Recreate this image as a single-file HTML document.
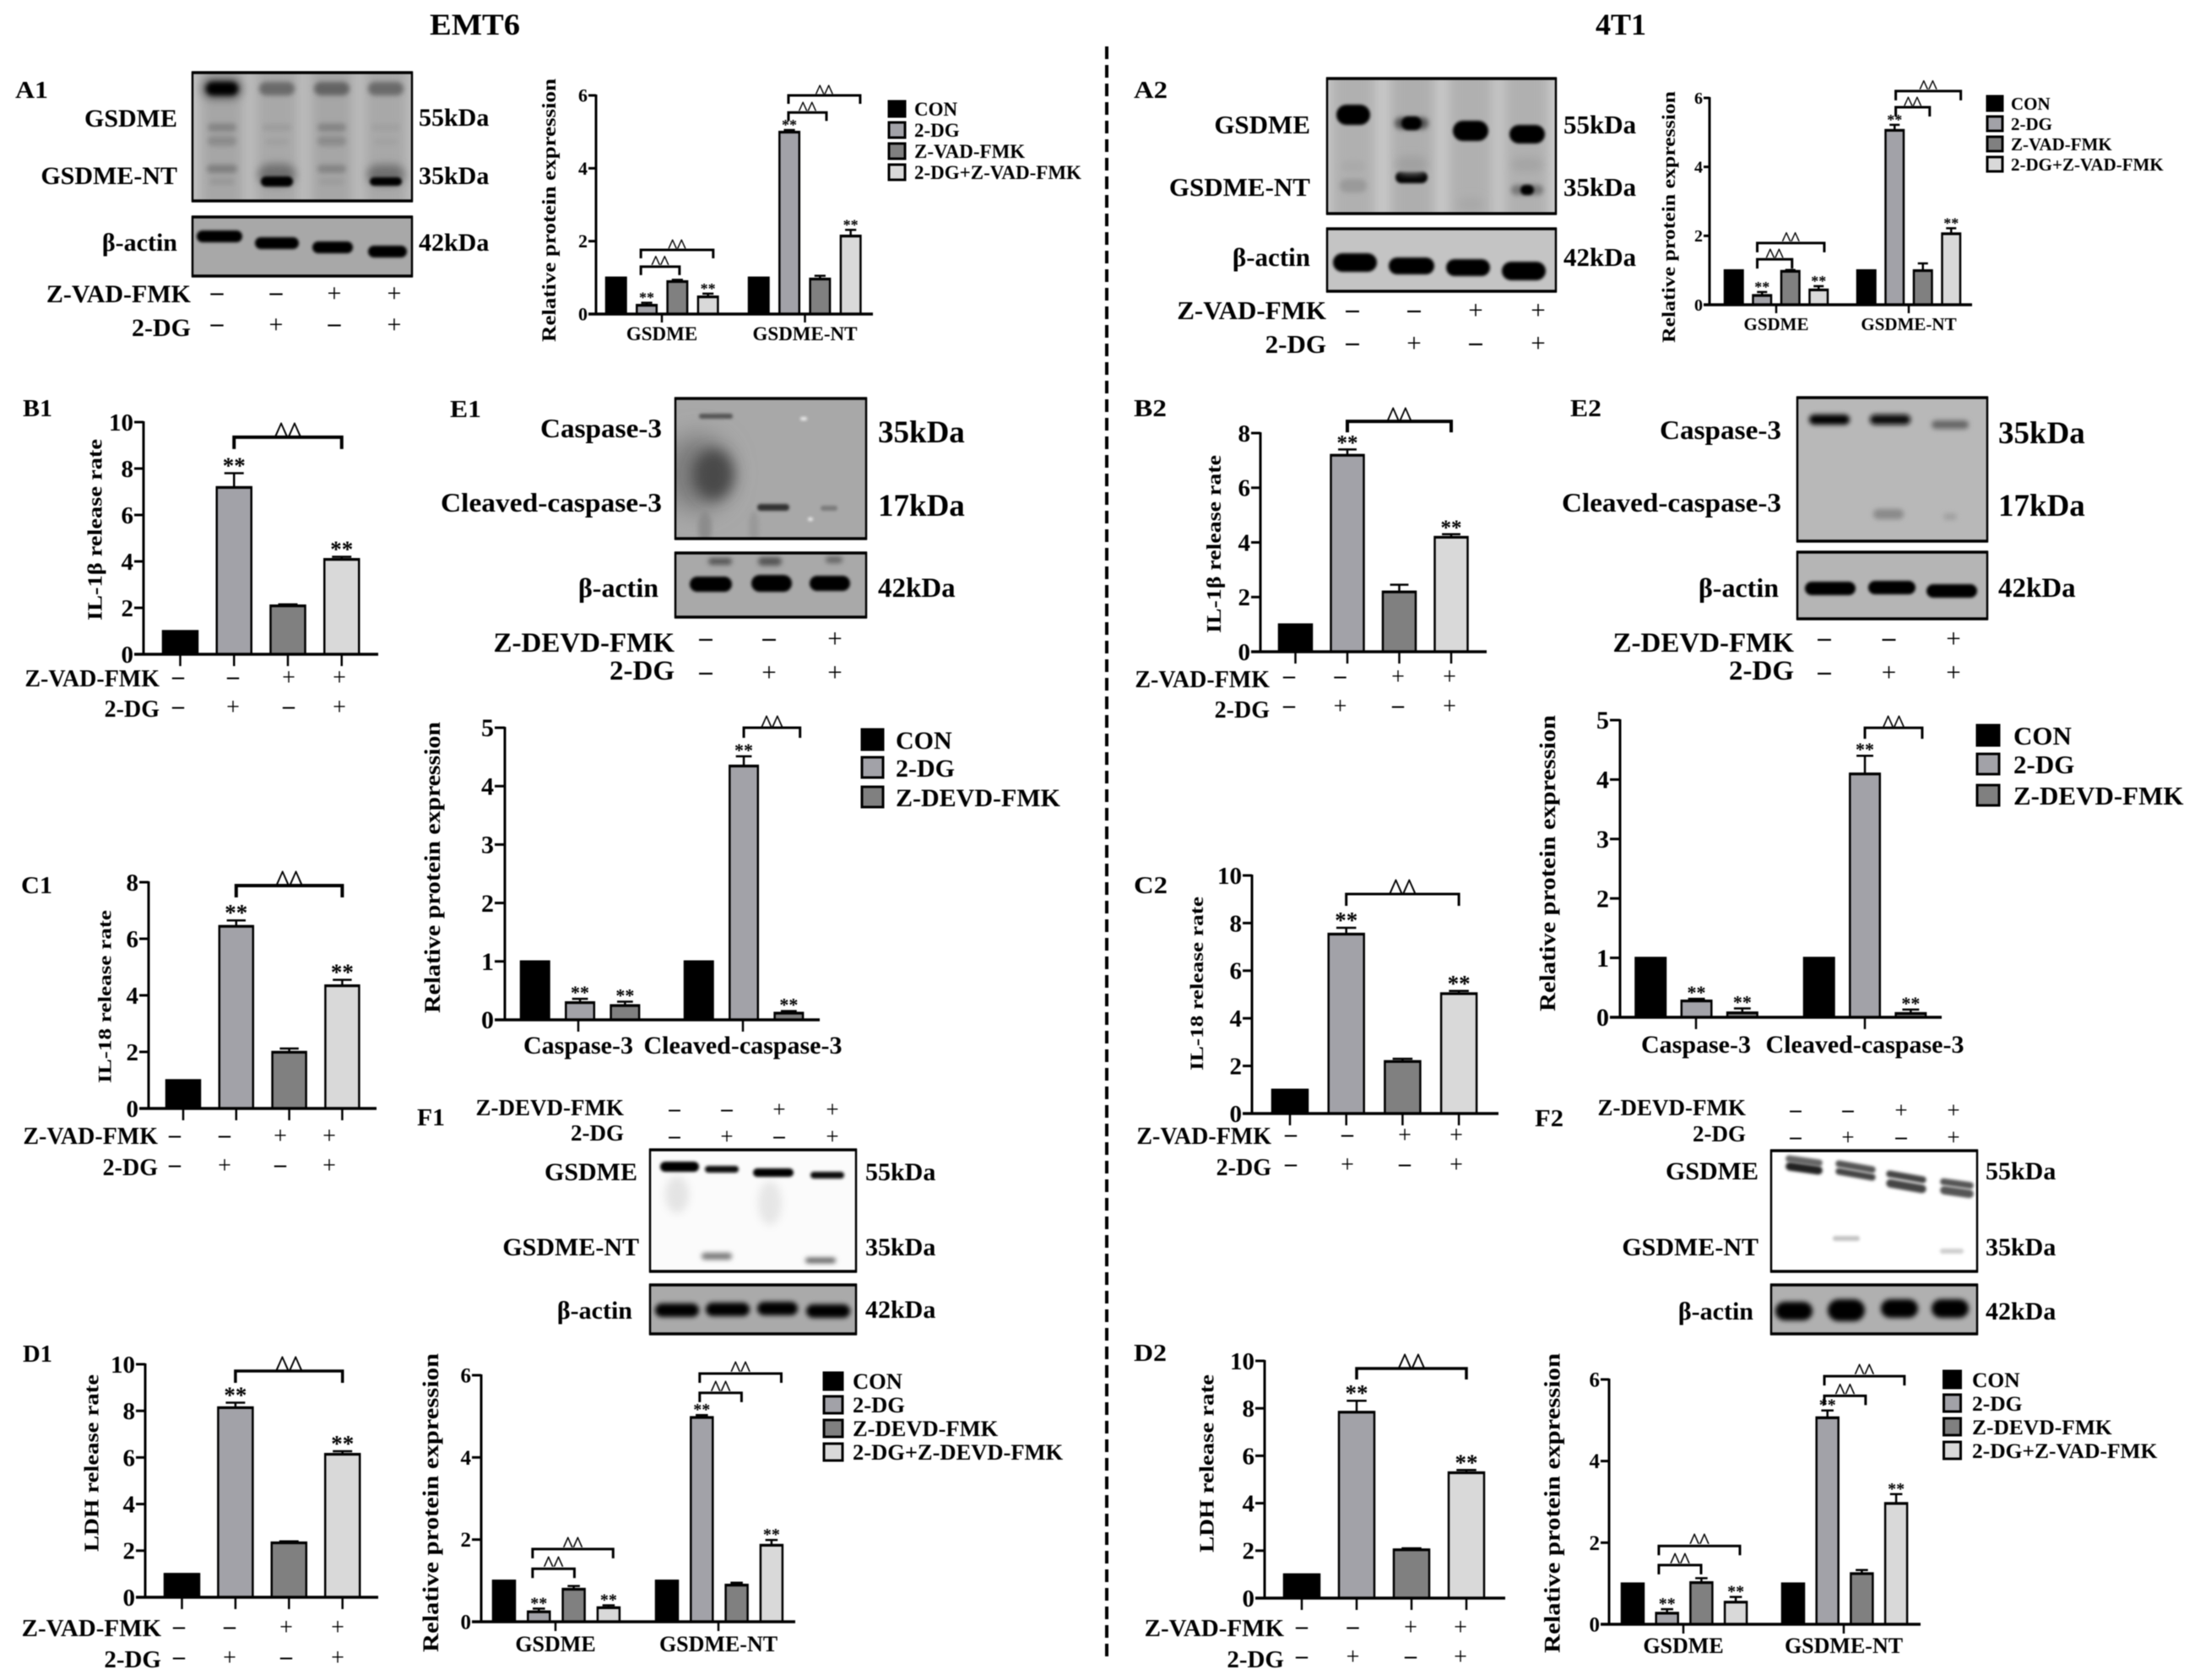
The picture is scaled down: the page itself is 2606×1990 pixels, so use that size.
<!DOCTYPE html>
<html lang="en">
<head>
<meta charset="utf-8">
<title>EMT6 and 4T1 pyroptosis figure</title>
<style>
html,body{margin:0;padding:0;background:#fff;}
svg{display:block;filter:blur(0.5px);}
text{font-family:"Liberation Serif","Noto Serif CJK SC",serif;font-weight:700;fill:#000;}
.r{text-anchor:end;}
.s30{font-size:30px;}
.s31{font-size:31px;}
.s32{font-size:32px;}
</style>
</head>
<body>
<svg id="figure" xmlns="http://www.w3.org/2000/svg" width="2606" height="1990" viewBox="0 0 2606 1990">
<defs>
<filter id="b1" x="-100%" y="-300%" width="300%" height="700%"><feGaussianBlur stdDeviation="1.5"/></filter>
<filter id="b3" x="-100%" y="-300%" width="300%" height="700%"><feGaussianBlur stdDeviation="3"/></filter>
<filter id="b5" x="-100%" y="-300%" width="300%" height="700%"><feGaussianBlur stdDeviation="5"/></filter>
<filter id="b8" x="-100%" y="-100%" width="300%" height="300%"><feGaussianBlur stdDeviation="8"/></filter>
<filter id="b14" x="-100%" y="-100%" width="300%" height="300%"><feGaussianBlur stdDeviation="14"/></filter>
</defs>
<rect width="2606" height="1990" fill="#fff"/>

<text x="509" y="41" font-size="36" textLength="107" lengthAdjust="spacingAndGlyphs">EMT6</text>
<text x="1890" y="41" font-size="36" textLength="60" lengthAdjust="spacingAndGlyphs">4T1</text>
<line x1="1311" y1="55" x2="1311" y2="1963" stroke="#000" stroke-width="4" stroke-dasharray="15 7"/>

<g font-size="28">
<text x="18" y="116" textLength="39" lengthAdjust="spacingAndGlyphs">A1</text>
<text x="1343" y="116" textLength="40" lengthAdjust="spacingAndGlyphs">A2</text>
<text x="27" y="493" textLength="35" lengthAdjust="spacingAndGlyphs">B1</text>
<text x="1343" y="493" textLength="39" lengthAdjust="spacingAndGlyphs">B2</text>
<text x="25" y="1058" textLength="37" lengthAdjust="spacingAndGlyphs">C1</text>
<text x="1343" y="1058" textLength="40" lengthAdjust="spacingAndGlyphs">C2</text>
<text x="27" y="1613" textLength="35" lengthAdjust="spacingAndGlyphs">D1</text>
<text x="1343" y="1612" textLength="39" lengthAdjust="spacingAndGlyphs">D2</text>
<text x="533" y="494" textLength="37" lengthAdjust="spacingAndGlyphs">E1</text>
<text x="1860" y="493" textLength="37" lengthAdjust="spacingAndGlyphs">E2</text>
<text x="494" y="1333" textLength="33" lengthAdjust="spacingAndGlyphs">F1</text>
<text x="1818" y="1334" textLength="34" lengthAdjust="spacingAndGlyphs">F2</text>
</g>

<g id="blots"></g>

<g class="s30">
<text class="r" x="210" y="150">GSDME</text>
<text class="r" x="210" y="218">GSDME-NT</text>
<text class="r" x="210" y="297">β-actin</text>
<text x="496" y="149">55kDa</text>
<text x="496" y="218">35kDa</text>
<text x="496" y="297">42kDa</text>
<text class="r" x="226" y="358">Z-VAD-FMK</text>
<text class="r" x="226" y="398">2-DG</text>
</g>
<g class="s31">
<text class="r" x="1552" y="158">GSDME</text>
<text class="r" x="1552" y="232">GSDME-NT</text>
<text class="r" x="1552" y="315">β-actin</text>
<text x="1852" y="158">55kDa</text>
<text x="1852" y="232">35kDa</text>
<text x="1852" y="315">42kDa</text>
<text class="r" x="1571" y="378">Z-VAD-FMK</text>
<text class="r" x="1571" y="418">2-DG</text>
</g>
<g class="s32">
<text class="r" x="784" y="518" textLength="144" lengthAdjust="spacingAndGlyphs">Caspase-3</text>
<text class="r" x="784" y="606" textLength="262" lengthAdjust="spacingAndGlyphs">Cleaved-caspase-3</text>
<text class="r" x="780" y="707">β-actin</text>
<text x="1040" y="524" font-size="37">35kDa</text>
<text x="1040" y="611" font-size="37">17kDa</text>
<text x="1040" y="707" font-size="33">42kDa</text>
<text class="r" x="799" y="772" font-size="33">Z-DEVD-FMK</text>
<text class="r" x="799" y="805" font-size="33">2-DG</text>
</g>
<g class="s32">
<text class="r" x="2110" y="520" textLength="144" lengthAdjust="spacingAndGlyphs">Caspase-3</text>
<text class="r" x="2110" y="606" textLength="260" lengthAdjust="spacingAndGlyphs">Cleaved-caspase-3</text>
<text class="r" x="2107" y="707">β-actin</text>
<text x="2367" y="525" font-size="37">35kDa</text>
<text x="2367" y="611" font-size="37">17kDa</text>
<text x="2367" y="707" font-size="33">42kDa</text>
<text class="r" x="2125" y="772" font-size="33">Z-DEVD-FMK</text>
<text class="r" x="2125" y="805" font-size="33">2-DG</text>
</g>
<g class="s30">
<text class="r" x="739" y="1321" font-size="27">Z-DEVD-FMK</text>
<text class="r" x="739" y="1351" font-size="27">2-DG</text>
<text class="r" x="755" y="1398">GSDME</text>
<text class="r" x="757" y="1487">GSDME-NT</text>
<text class="r" x="749" y="1562">β-actin</text>
<text x="1025" y="1398">55kDa</text>
<text x="1025" y="1487">35kDa</text>
<text x="1025" y="1561">42kDa</text>
</g>
<g class="s30">
<text class="r" x="2068" y="1321" font-size="27">Z-DEVD-FMK</text>
<text class="r" x="2068" y="1352" font-size="27">2-DG</text>
<text class="r" x="2083" y="1397">GSDME</text>
<text class="r" x="2083" y="1487">GSDME-NT</text>
<text class="r" x="2077" y="1563">β-actin</text>
<text x="2352" y="1397">55kDa</text>
<text x="2352" y="1487">35kDa</text>
<text x="2352" y="1563">42kDa</text>
</g>

<g id="blot-signs"></g>

<g id="chart-a1"></g>
<g id="chart-a2"></g>
<g id="chart-b1"></g>
<g id="chart-b2"></g>
<g id="chart-c1"></g>
<g id="chart-c2"></g>
<g id="chart-d1"></g>
<g id="chart-d2"></g>
<g id="chart-e1"></g>
<g id="chart-e2"></g>
<g id="chart-f1"></g>
<g id="chart-f2"></g>
</svg>

<script>
/* ---------- chart data ---------- */
const gsdmeGroups = ['GSDME', 'GSDME-NT'];
const caspaseGroups = ['Caspase-3', 'Cleaved-caspase-3'];
const noGroups = [''];
const vadLegend = ['CON', '2-DG', 'Z-VAD-FMK', '2-DG+Z-VAD-FMK'];
const devdLegend3 = ['CON', '2-DG', 'Z-DEVD-FMK'];
const f1Legend = ['CON', '2-DG', 'Z-DEVD-FMK', '2-DG+Z-DEVD-FMK'];
const f2Legend = ['CON', '2-DG', 'Z-DEVD-FMK', '2-DG+Z-VAD-FMK'];
const rowNames = ['Z-VAD-FMK', '2-DG'];
const rowSigns = [['–', '–', '+', '+'], ['–', '+', '–', '+']];

const ticks6 = [0, 2, 4, 6];
const ticks8 = [0, 2, 4, 6, 8];
const ticks10 = [0, 2, 4, 6, 8, 10];
const ticks5 = [0, 1, 2, 3, 4, 5];

const a1Values = [[1, 0.25, 0.9, 0.48], [1, 5, 0.97, 2.15]];
const a1Errors = [[0, 0.06, 0.04, 0.08], [0, 0.05, 0.08, 0.16]];
const a1Stars = [[1, 3], [1, 3]];
const a1Brackets = [[0, 0.81, 2.07, 1.3], [0, 0.81, 3.17, 1.76], [1, 0.97, 2.21, 5.53], [1, 0.97, 3.31, 6.0]];

const a2Values = [[1, 0.28, 0.98, 0.44], [1, 5.07, 1, 2.07]];
const a2Errors = [[0, 0.09, 0.03, 0.1], [0, 0.15, 0.2, 0.15]];
const a2Stars = [[1, 3], [1, 3]];
const a2Brackets = [[0, 0.83, 2.06, 1.32], [0, 0.83, 3.2, 1.79], [1, 1.04, 2.24, 5.73], [1, 1.04, 3.34, 6.2]];

const b1Values = [[1, 7.2, 2.1, 4.1]];
const b1Errors = [[0, 0.6, 0.05, 0.1]];
const b1Stars = [[1, 3]];
const b1Brackets = [[0, 1, 3, 9.35]];

const b2Values = [[1, 7.2, 2.2, 4.2]];
const b2Errors = [[0, 0.2, 0.25, 0.1]];
const b2Stars = [[1, 3]];
const b2Brackets = [[0, 1, 3, 8.43]];

const c1Values = [[1, 6.45, 2, 4.35]];
const c1Errors = [[0, 0.2, 0.12, 0.2]];
const c1Stars = [[1, 3]];
const c1Brackets = [[0, 1, 3, 7.88]];

const c2Values = [[1, 7.55, 2.2, 5.05]];
const c2Errors = [[0, 0.25, 0.1, 0.1]];
const c2Stars = [[1, 3]];
const c2Brackets = [[0, 1, 3, 9.22]];

const d1Values = [[1, 8.15, 2.35, 6.15]];
const d1Errors = [[0, 0.2, 0.05, 0.12]];
const d1Stars = [[1, 3]];
const d1Brackets = [[0, 1, 3, 9.71]];

const d2Values = [[1, 7.85, 2.05, 5.3]];
const d2Errors = [[0, 0.47, 0.05, 0.1]];
const d2Stars = [[1, 3]];
const d2Brackets = [[0, 1, 3, 9.68]];

const e1Values = [[1, 0.3, 0.25], [1, 4.35, 0.12]];
const e1Errors = [[0, 0.06, 0.06], [0, 0.16, 0.03]];
const e1Stars = [[1, 2], [1, 2]];
const e1Brackets = [[1, 1, 2.25, 5.0]];

const e2Values = [[1, 0.28, 0.08], [1, 4.1, 0.07]];
const e2Errors = [[0, 0.03, 0.07], [0, 0.3, 0.06]];
const e2Stars = [[1, 2], [1, 2]];
const e2Brackets = [[1, 1, 2.25, 4.87]];

const f1Values = [[1, 0.25, 0.8, 0.35], [1, 4.98, 0.9, 1.87]];
const f1Errors = [[0, 0.07, 0.07, 0.05], [0, 0.05, 0.05, 0.12]];
const f1Stars = [[1, 3], [1, 3]];
const f1Brackets = [[0, 0.82, 2.02, 1.29], [0, 0.82, 3.13, 1.77], [1, 0.94, 2.14, 5.57], [1, 0.94, 3.28, 6.04]];

const f2Values = [[1, 0.28, 1.03, 0.55], [1, 5.07, 1.25, 2.97]];
const f2Errors = [[0, 0.09, 0.1, 0.12], [0, 0.17, 0.08, 0.22]];
const f2Stars = [[1, 3], [1, 3]];
const f2Brackets = [[0, 0.76, 1.99, 1.45], [0, 0.76, 3.12, 1.92], [1, 0.91, 2.11, 5.6], [1, 0.91, 3.24, 6.08]];

const barFills = ['#000000', '#a2a2a8', '#808080', '#d9d9d9'];

/* ---------- chart layout (pixels) ---------- */
const charts = [
 {id:'chart-a1', values:a1Values, errors:a1Errors, stars:a1Stars, brackets:a1Brackets, ticks:ticks6, groups:gsdmeGroups, legend:vadLegend,
  axisX:706,yTop:113,yZero:372,xEnd:1034,tickLen:9,tickDown:8,bar0:718,step:36.3,barW:23.5,groupOffset:169,
  title:'Relative protein expression',titleX:658,titleTop:93,titleBot:405,titleFont:23,tickFont:22,starFont:18,bracketW:3,tip:10,
  groupX:[784,953.5],labelY:403,labelFont:23,swX:1053,swW:19,swH:18,legX:1083,legFont:23,legY:[137,162,187,212]},
 {id:'chart-a2', values:a2Values, errors:a2Errors, stars:a2Stars, brackets:a2Brackets, ticks:ticks6, groups:gsdmeGroups, legend:vadLegend,
  axisX:2025,yTop:116,yZero:361,xEnd:2336,tickLen:7,tickDown:8,bar0:2043,step:33.5,barW:21.5,groupOffset:157,
  title:'Relative protein expression',titleX:1984,titleTop:108,titleBot:406,titleFont:22,tickFont:20,starFont:18,bracketW:3,tip:11,
  groupX:[2104,2261],labelY:391,labelFont:21,swX:2354,swW:18,swH:17,legX:2382,legFont:21,legY:[130,154,178,202]},
 {id:'chart-b1', values:b1Values, errors:b1Errors, stars:b1Stars, brackets:b1Brackets, ticks:ticks10, groups:noGroups, legend:[],
  axisX:170,yTop:500,yZero:775,xEnd:448,tickLen:11,tickDown:12,bar0:193,step:63.75,barW:41,groupOffset:0,
  title:'IL-1β release rate',titleX:120.5,titleTop:520,titleBot:735,titleFont:24,tickFont:29,starFont:27,bracketW:4,tip:14,
  rowRight:189,rowY:[813,849],rowFont:28,signY:[803,838],signX:[211,276,342,402],signSize:28},
 {id:'chart-b2', values:b2Values, errors:b2Errors, stars:b2Stars, brackets:b2Brackets, ticks:ticks8, groups:noGroups, legend:[],
  axisX:1493,yTop:513,yZero:772,xEnd:1761,tickLen:11,tickDown:12,bar0:1515,step:61.5,barW:39,groupOffset:0,
  title:'IL-1β release rate',titleX:1446,titleTop:539,titleBot:750,titleFont:24,tickFont:29,starFont:25,bracketW:4,tip:13,
  rowRight:1504,rowY:[814,850],rowFont:28,signY:[802,837],signX:[1527,1587.5,1656,1717],signSize:28},
 {id:'chart-c1', values:c1Values, errors:c1Errors, stars:c1Stars, brackets:c1Brackets, ticks:ticks8, groups:noGroups, legend:[],
  axisX:176,yTop:1045,yZero:1313,xEnd:446,tickLen:11,tickDown:12,bar0:197,step:62.8,barW:40,groupOffset:0,
  title:'IL-18  release rate',titleX:131.5,titleTop:1078,titleBot:1283,titleFont:22,tickFont:29,starFont:27,bracketW:4,tip:14,
  rowRight:187,rowY:[1355,1392],rowFont:28,signY:[1346,1381],signX:[207,266,332,390],signSize:28},
 {id:'chart-c2', values:c2Values, errors:c2Errors, stars:c2Stars, brackets:c2Brackets, ticks:ticks10, groups:noGroups, legend:[],
  axisX:1483,yTop:1037,yZero:1319,xEnd:1775,tickLen:11,tickDown:12,bar0:1507,step:66.7,barW:42,groupOffset:0,
  title:'IL-18  release rate',titleX:1425,titleTop:1062,titleBot:1268,titleFont:22,tickFont:29,starFont:27,bracketW:3,tip:14,
  rowRight:1506,rowY:[1355,1392],rowFont:28,signY:[1345,1380],signX:[1529,1596,1664,1725],signSize:28},
 {id:'chart-d1', values:d1Values, errors:d1Errors, stars:d1Stars, brackets:d1Brackets, ticks:ticks10, groups:noGroups, legend:[],
  axisX:172,yTop:1616,yZero:1892,xEnd:448,tickLen:11,tickDown:12,bar0:195,step:63.4,barW:41,groupOffset:0,
  title:'LDH release rate',titleX:116.5,titleTop:1628,titleBot:1838,titleFont:24,tickFont:29,starFont:27,bracketW:3.5,tip:14,
  rowRight:191,rowY:[1938,1975],rowFont:29,signY:[1928,1964],signX:[212,272,339,400],signSize:28},
 {id:'chart-d2', values:d2Values, errors:d2Errors, stars:d2Stars, brackets:d2Brackets, ticks:ticks10, groups:noGroups, legend:[],
  axisX:1498,yTop:1612,yZero:1893,xEnd:1783,tickLen:11,tickDown:12,bar0:1521,step:65,barW:42,groupOffset:0,
  title:'LDH release rate',titleX:1437.5,titleTop:1628,titleBot:1839,titleFont:24,tickFont:29,starFont:27,bracketW:3.5,tip:13,
  rowRight:1521,rowY:[1938,1975],rowFont:29,signY:[1928,1963],signX:[1542,1602.5,1671,1730],signSize:28},
 {id:'chart-e1', values:e1Values, errors:e1Errors, stars:e1Stars, brackets:e1Brackets, ticks:ticks5, groups:caspaseGroups, legend:devdLegend3,
  axisX:598,yTop:862,yZero:1208,xEnd:971,tickLen:12,tickDown:12,bar0:617,step:53.3,barW:33.5,groupOffset:194,
  title:'Relative protein expression',titleX:521,titleTop:855,titleBot:1200,titleFont:26,tickFont:30,starFont:22,bracketW:3,tip:12,
  groupX:[685,880],labelY:1248,labelFont:30,swX:1021,swW:25,swH:24,legX:1061,legFont:30,legY:[887,920,955]},
 {id:'chart-e2', values:e2Values, errors:e2Errors, stars:e2Stars, brackets:e2Brackets, ticks:ticks5, groups:caspaseGroups, legend:devdLegend3,
  axisX:1919,yTop:853,yZero:1205,xEnd:2300,tickLen:12,tickDown:12,bar0:1937.5,step:54.3,barW:35.5,groupOffset:199.5,
  title:'Relative protein expression',titleX:1842,titleTop:847,titleBot:1198,titleFont:26,tickFont:30,starFont:22,bracketW:3,tip:13,
  groupX:[2009,2209],labelY:1247,labelFont:30,swX:2342,swW:26,swH:24,legX:2385,legFont:31,legY:[882,916,953]},
 {id:'chart-f1', values:f1Values, errors:f1Errors, stars:f1Stars, brackets:f1Brackets, ticks:ticks6, groups:gsdmeGroups, legend:f1Legend,
  axisX:570,yTop:1629,yZero:1921,xEnd:942,tickLen:11,tickDown:9,bar0:584,step:41.3,barW:26,groupOffset:193,
  title:'Relative protein expression',titleX:519,titleTop:1603,titleBot:1957,titleFont:26,tickFont:25,starFont:20,bracketW:3,tip:11,
  groupX:[658,851],labelY:1956,labelFont:26,swX:976,swW:22,swH:20,legX:1010,legFont:26.5,legY:[1645,1673,1701,1729]},
 {id:'chart-f2', values:f2Values, errors:f2Errors, stars:f2Stars, brackets:f2Brackets, ticks:ticks6, groups:gsdmeGroups, legend:f2Legend,
  axisX:1906,yTop:1634,yZero:1924,xEnd:2275,tickLen:10,tickDown:9,bar0:1921,step:40.7,barW:26,groupOffset:190,
  title:'Relative protein expression',titleX:1847.5,titleTop:1603,titleBot:1958,titleFont:26,tickFont:25,starFont:20,bracketW:3,tip:11,
  groupX:[1994,2184],labelY:1958,labelFont:26,swX:2302.5,swW:20,swH:20,legX:2336,legFont:25.5,legY:[1643,1671,1699,1727]}
];

/* ---------- blot image description ---------- */
const blotImages = [
 {x:228,y:86,w:260,h:152,bg:'#c6c6c6',lanes:[[263,54,'#a6a6a6'],[328,54,'#a8a8a8'],[393,54,'#a6a6a6'],[457,54,'#a8a8a8']],
  bands:[[263,105,24,13,'#666',5],[263,105,19,8,'#000',3],[328,105,21,8,'#6b6b6b',3],[393,105,21,8,'#636363',3],[457,105,21,8,'#6b6b6b',3],
   [263,151,17,5,'#858585',3],[328,151,17,4,'#9c9c9c',3],[393,151,17,5,'#858585',3],[457,151,17,4,'#a0a0a0',3],
   [263,167,17,6,'#8c8c8c',3],[328,168,14,4,'#a0a0a0',3],[393,167,17,6,'#8c8c8c',3],[457,168,14,4,'#a2a2a2',3],
   [263,200,18,5,'#808080',3],[393,200,17,5,'#858585',3],[263,215,15,4,'#989898',3],[393,215,15,4,'#9c9c9c',3],
   [328,207,22,13,'#707070',5],[457,207,22,12,'#707070',5],[328,215,19,6,'#000',1],[457,215,19,5,'#000',1]]},
 {x:228,y:257,w:260,h:70,bg:'#a8a8a8',lanes:[],
  bands:[[260,280,27,7,'#000',1],[328,288,26,7,'#000',1],[394,293,24,7,'#000',1],[459,298,23,7,'#000',1]]},
 {x:1572,y:93,w:271,h:160,bg:'#d0d0d0',lanes:[[1603,56,'#b0b0b0'],[1673,56,'#aeaeae'],[1742,56,'#b0b0b0'],[1808,56,'#b0b0b0']],
  bands:[[1603,136,20,12,'#000',1],[1672,146,20,7,'#555',3],[1672,146,12,8,'#000',1],[1742,155,21,12,'#000',1],[1809,159,21,11,'#000',1],
   [1672,210,19,7,'#000',1],[1809,225,19,6,'#777',3],[1809,225,8,6,'#000',1],[1603,220,16,8,'#9a9a9a',3],[1603,197,14,7,'#aaaaaa',3],[1742,242,15,8,'#a8a8a8',5],[1672,195,18,10,'#a0a0a0',5],[1809,195,18,8,'#a4a4a4',5]]},
 {x:1572,y:271,w:271,h:74,bg:'#c4c4c4',lanes:[],
  bands:[[1605,311,26,11,'#000',1],[1672,315,27,10,'#000',1],[1739,317,26,10,'#000',1],[1805,321,26,11,'#000',1]]},
 {x:800,y:472,w:226,h:166,bg:'#a8a8a8',lanes:[],
  bands:[[826,560,40,45,'#7c7c7c',14],[845,562,24,30,'#4a4a4a',8],[835,625,8,20,'#8c8c8c',3],[893,625,6,20,'#999',3],[848,493,20,3,'#555',1],[916,601,19,4,'#333',1],[982,602,10,3,'#7a7a7a',1],[952,496,4,2,'#eee',1],[960,615,3,2,'#eee',1]]},
 {x:800,y:655,w:226,h:76,bg:'#a9a9a9',lanes:[],
  bands:[[842,692,25,9,'#000',1],[914,691,24,10,'#000',1],[983,691,24,9,'#000',1],[853,665,14,4,'#555',3],[912,665,14,5,'#555',3],[988,663,10,4,'#666',3]]},
 {x:2129,y:471,w:225,h:170,bg:'#b8b8b8',lanes:[],
  bands:[[2167,497,24,6,'#000',3],[2239,497,24,6,'#111',3],[2310,503,22,5,'#666',3],[2237,609,18,6,'#8a8a8a',3],[2310,612,8,4,'#a0a0a0',3]]},
 {x:2129,y:654,w:225,h:79,bg:'#b5b5b5',lanes:[],
  bands:[[2168,697,30,8,'#000',1],[2241,696,28,8,'#000',1],[2312,700,30,8,'#000',1]]},
 {x:770,y:1362,w:244,h:144,bg:'#fbfbfb',lanes:[],
  bands:[[802,1415,14,22,'#e4e4e4',5],[912,1425,14,26,'#e6e6e6',5],[805,1382,23,6,'#000',1],[855,1385,20,4,'#111',1],[916,1389,24,5,'#000',1],[980,1392,20,4,'#111',1],[849,1488,18,4,'#777',3],[972,1493,18,3,'#555',3]]},
 {x:770,y:1522,w:244,h:58,bg:'#aaa',lanes:[],
  bands:[[802,1552,26,8,'#000',3],[862,1551,26,8,'#000',3],[921,1550,24,8,'#000',3],[981,1553,26,8,'#000',3]]},
 {x:2098,y:1363,w:244,h:143,bg:'#ffffff',lanes:[],
  bands:[[2137,1375,22,4,'#666',1,8],[2137,1384,22,5,'#222',1,8],[2198,1382,24,4,'#555',1,10],[2198,1391,24,4,'#444',1,10],
   [2258,1394,24,4,'#444',1,10],[2258,1405,24,5,'#444',1,10],[2318,1402,20,4,'#555',1,8],[2318,1412,20,5,'#555',1,8],[2187,1467,16,3,'#c4c4c4',1],[2312,1482,14,3,'#cfcfcf',1]]},
 {x:2098,y:1522,w:244,h:58,bg:'#b0b0b0',lanes:[],
  bands:[[2125,1553,22,11,'#000',3],[2187,1552,22,13,'#000',3],[2250,1550,22,11,'#000',3],[2310,1550,22,11,'#000',3]]}
];

const blotSigns = [
 {xs:[257,327,396,467],rows:[[348,['–','–','+','+']],[385,['–','+','–','+']]],size:30},
 {xs:[1602,1675,1748,1822],rows:[[368,['–','–','+','+']],[407,['–','+','–','+']]],size:31},
 {xs:[836,911,989],rows:[[757,['–','–','+']],[797,['–','+','+']]],size:31},
 {xs:[2161,2237.5,2314],rows:[[757,['–','–','+']],[797,['–','+','+']]],size:31},
 {xs:[799,861,923,986],rows:[[1315,['–','–','+','+']],[1347,['–','+','–','+']]],size:27},
 {xs:[2127,2189,2252,2314],rows:[[1316,['–','–','+','+']],[1348,['–','+','–','+']]],size:27}
];

/* ---------- drawing ---------- */
const NS = 'http://www.w3.org/2000/svg';
function mk(tag, parent, attrs, txt) {
  const el = document.createElementNS(NS, tag);
  for (const k in attrs) el.setAttribute(k, attrs[k]);
  if (txt !== undefined) el.textContent = txt;
  parent.appendChild(el);
  return el;
}
function drawSign(parent, x, y, s, size) {
  const el = mk('text', parent, {x:x, y:y + (s === '+' ? 0.3 : 0.25) * size, 'text-anchor':'middle', 'font-size':size, style:s === '+' ? 'font-weight:400' : ''}, s);
  
  
}

function drawChart(c) {
  const g = document.getElementById(c.id);
  const yMax = c.ticks[c.ticks.length - 1];
  const yScale = v => c.yZero - (v / yMax) * (c.yZero - c.yTop);
  const barLeft = (gi, i) => c.bar0 + gi * c.groupOffset + i * c.step;
  const barCenter = (gi, i) => barLeft(gi, i) + c.barW / 2;

  c.values.forEach((series, gi) => {
    series.forEach((v, i) => {
      const fill = barFills[i];
      const err = c.errors[gi][i];
      const cx = barCenter(gi, i);
      const top = yScale(v);
      const errTop = yScale(v + err);
      if (err > 0) {
        const stem = mk('line', g, {x1:cx, x2:cx, y1:top, y2:errTop, stroke:'#000', 'stroke-width':2.5});
        
        
        const cap = mk('line', g, {x1:cx - c.barW * 0.28, x2:cx + c.barW * 0.28, y1:errTop, y2:errTop, stroke:'#000', 'stroke-width':2.5});
        
        
      }
      const bar = mk('rect', g, {x:barLeft(gi, i), y:top, width:c.barW, height:c.yZero - top, fill:fill, stroke:'#000', 'stroke-width':2.5});
      
      
      const lid = mk('line', g, {x1:barLeft(gi, i), x2:barLeft(gi, i) + c.barW, y1:top + 0.5, y2:top + 0.5, stroke:'#000', 'stroke-width':3});
      
      
      if (c.stars[gi].includes(i)) {
        const star = mk('text', g, {x:cx, y:errTop, 'text-anchor':'middle', 'font-size':c.starFont}, '**');
        
        
      }
    });
  });

  const yAxis = mk('line', g, {x1:c.axisX, x2:c.axisX, y1:c.yTop - 1, y2:c.yZero, stroke:'#000', 'stroke-width':3});
  
  
  const xAxis = mk('line', g, {x1:c.axisX - c.tickLen, x2:c.xEnd, y1:c.yZero, y2:c.yZero, stroke:'#000', 'stroke-width':3.5});
  
  

  c.ticks.forEach(t => {
    const y = yScale(t);
    const tick = mk('line', g, {x1:c.axisX - c.tickLen, x2:c.axisX, y1:y, y2:y, stroke:'#000', 'stroke-width':3});
    
    
    const label = mk('text', g, {x:c.axisX - c.tickLen - 1, y:y + 0.34 * c.tickFont, 'text-anchor':'end', 'font-size':c.tickFont}, String(t));
    
    
  });

  const midY = (c.titleTop + c.titleBot) / 2;
  const title = mk('text', g, {transform:'translate(' + c.titleX + ',' + midY + ') rotate(-90)', 'text-anchor':'middle', 'font-size':c.titleFont, textLength:c.titleBot - c.titleTop, lengthAdjust:'spacingAndGlyphs', 'xml:space':'preserve'}, c.title);
  
  

  if (c.groupX) {
    c.groups.forEach((name, gi) => {
      const tick = mk('line', g, {x1:c.groupX[gi], x2:c.groupX[gi], y1:c.yZero, y2:c.yZero + c.tickDown + 2, stroke:'#000', 'stroke-width':2.5});
      
      
      const label = mk('text', g, {x:c.groupX[gi], y:c.labelY, 'text-anchor':'middle', 'font-size':c.labelFont}, name);
      
      
    });
  } else {
    c.values[0].forEach((v, i) => {
      const cx = barCenter(0, i);
      const tick = mk('line', g, {x1:cx, x2:cx, y1:c.yZero, y2:c.yZero + c.tickDown + 2, stroke:'#000', 'stroke-width':2.5});
      
      
    });
    rowNames.forEach((name, r) => {
      const label = mk('text', g, {x:c.rowRight, y:c.rowY[r], 'text-anchor':'end', 'font-size':c.rowFont}, name);
      
      
      rowSigns[r].forEach((s, i) => drawSign(g, c.signX[i], c.signY[r], s, c.signSize));
    });
  }

  c.brackets.forEach(b => {
    const x1 = barCenter(b[0], b[1]);
    const x2 = barCenter(b[0], b[2]);
    const y = yScale(b[3]);
    const path = mk('path', g, {d:'M' + x1 + ' ' + (y + c.tip) + 'V' + y + 'H' + x2 + 'V' + (y + c.tip), fill:'none', stroke:'#000', 'stroke-width':c.bracketW});
    
    
    const size = c.starFont * 1.25;
    const caret = mk('text', g, {x:(x1 + x2) / 2, y:y - 5 + 0.3 * size, 'text-anchor':'middle', 'font-size':size, stroke:'#000', 'stroke-width':0.5, style:'font-weight:400'}, '^^');
    
    
  });

  c.legend.forEach((name, i) => {
    const base = c.legY[i];
    const swatch = mk('rect', g, {x:c.swX, y:base - c.swH + 1, width:c.swW, height:c.swH, fill:barFills[i], stroke:'#000', 'stroke-width':3});
    
    
    const label = mk('text', g, {x:c.legX, y:base, 'font-size':c.legFont}, name);
    
    
  });
}

function drawBlot(b, index) {
  const root = document.getElementById('blots');
  const clip = mk('clipPath', root, {id:'blot-clip-' + index});
  mk('rect', clip, {x:b.x, y:b.y, width:b.w, height:b.h});
  const g = mk('g', root, {'clip-path':'url(#blot-clip-' + index + ')'});
  
  
  const bg = mk('rect', g, {x:b.x, y:b.y, width:b.w, height:b.h, fill:b.bg});
  
  
  b.lanes.forEach(l => {
    const lane = mk('rect', g, {x:l[0] - l[1] / 2, y:b.y - 20, width:l[1], height:b.h + 40, fill:l[2], filter:'url(#b8)'});
    
    
  });
  b.bands.forEach(d => {
    const band = mk('rect', g, {x:d[0] - d[2], y:d[1] - d[3], width:d[2] * 2, height:d[3] * 2, rx:Math.min(d[2], d[3]), ry:d[3], fill:d[4], filter:'url(#b' + d[5] + ')', transform:d[6] ? 'rotate(' + d[6] + ' ' + d[0] + ' ' + d[1] + ')' : ''});
    
    
  });
  const frame = mk('rect', root, {x:b.x, y:b.y, width:b.w, height:b.h, fill:'none', stroke:'#000', 'stroke-width':2.5});
  
  
  [b.y, b.y + b.h].forEach(y => {
    const edge = mk('line', root, {x1:b.x - 1, x2:b.x + b.w + 1, y1:y, y2:y, stroke:'#000', 'stroke-width':3.5});
    
    
  });
}

blotImages.forEach(drawBlot);
const signRoot = document.getElementById('blot-signs');
blotSigns.forEach(group => {
  group.rows.forEach(row => {
    row[1].forEach((s, i) => drawSign(signRoot, group.xs[i], row[0], s, group.size));
  });
});
charts.forEach(drawChart);
</script>
</body>
</html>
